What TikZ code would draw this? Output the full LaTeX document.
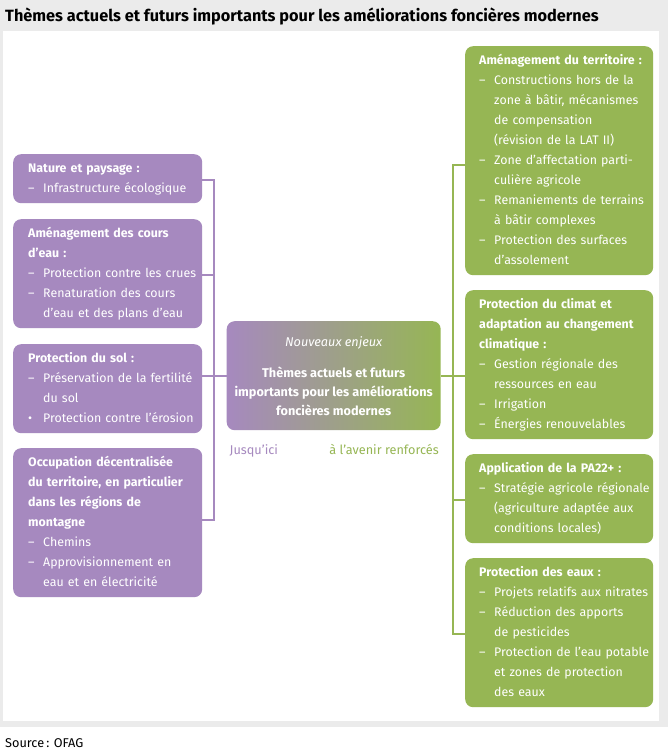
\documentclass[tikz,border=0pt]{standalone}
\usepackage{fontspec}
\setmainfont{Fira Sans}
\definecolor{purp}{HTML}{A689BF}
\definecolor{grn}{HTML}{96B654}
\definecolor{bgg}{HTML}{EBEBEB}
\newcommand\hdl[1]{\mbox{\bfseries\strut #1}}
\newcommand\dsh[1]{\mbox{\strut\makebox[15pt][l]{–}#1}}
\newcommand\blt[1]{\mbox{\strut\makebox[15pt][l]{•}#1}}
\newcommand\hind[1]{\mbox{\strut\hspace*{15pt}#1}}
\begin{document}
\begin{tikzpicture}[x=1pt,y=-1pt,
  box/.style={rounded corners=8pt, text=white, align=left, anchor=north west,
    inner xsep=15pt, inner ysep=4.5pt, font=\fontsize{12.4}{20}\selectfont},
  lbox/.style={box, fill=purp, text width=159pt},
  rbox/.style={box, fill=grn, text width=160pt, inner xsep=14pt},
  lline/.style={draw=purp, line width=1.3pt},
  rline/.style={draw=grn, line width=1.3pt}]
\useasboundingbox (0,0) rectangle (668,755);
\fill[bgg] (0,0) rectangle (668,727);
\fill[white] (3,31) rectangle (659,721);
\node[anchor=base west, inner sep=0pt, font=\fontsize{16.3}{18}\selectfont\bfseries] (title) at (5,21)
  {Thèmes actuels et futurs importants pour les améliorations foncières modernes};
\node[anchor=base west, inner sep=0pt, font=\fontsize{12.7}{14}\selectfont] (src) at (5,747) {Source\,: OFAG};

% left boxes
\node[lbox] (L1) at (13,154) {\hdl{Nature et paysage :}\\ \dsh{Infrastructure écologique}};
\node[lbox] (L2) at (13,219) {\hdl{Aménagement des cours}\\ \hdl{d’eau :}\\ \dsh{Protection contre les crues}\\ \dsh{Renaturation des cours}\\ \hind{d’eau et des plans d’eau}};
\node[lbox] (L3) at (13,344) {\hdl{Protection du sol :}\\ \dsh{Préservation de la fertilité}\\ \hind{du sol}\\ \blt{Protection contre l’érosion}};
\node[lbox] (L4) at (13,448) {\hdl{Occupation décentralisée}\\ \hdl{du territoire, en particulier}\\ \hdl{dans les régions de}\\ \hdl{montagne}\\ \dsh{Chemins}\\ \dsh{Approvisionnement en}\\ \hind{eau et en électricité}};

% right boxes
\node[rbox] (R1) at (465,46) {\hdl{Aménagement du territoire :}\\ \dsh{Constructions hors de la}\\ \hind{zone à bâtir, mécanismes}\\ \hind{de compensation}\\ \hind{(révision de la LAT II)}\\ \dsh{Zone d’affectation parti-}\\ \hind{culière agricole}\\ \dsh{Remaniements de terrains}\\ \hind{à bâtir complexes}\\ \dsh{Protection des surfaces}\\ \hind{d’assolement}};
\node[rbox] (R2) at (465,290) {\hdl{Protection du climat et}\\ \hdl{adaptation au changement}\\ \hdl{climatique :}\\ \dsh{Gestion régionale des}\\ \hind{ressources en eau}\\ \dsh{Irrigation}\\ \dsh{Énergies renouvelables}};
\node[rbox] (R3) at (465,454) {\hdl{Application de la PA22+ :}\\ \dsh{Stratégie agricole régionale}\\ \hind{(agriculture adaptée aux}\\ \hind{conditions locales)}};
\node[rbox] (R4) at (465,558) {\hdl{Protection des eaux :}\\ \dsh{Projets relatifs aux nitrates}\\ \dsh{Réduction des apports}\\ \hind{de pesticides}\\ \dsh{Protection de l’eau potable}\\ \hind{et zones de protection}\\ \hind{des eaux}};

% center
\node[rounded corners=8pt, left color=purp, right color=grn, draw=none, text=white,
  minimum width=214pt, minimum height=109pt, align=center, anchor=north west, inner sep=0pt,
  font=\fontsize{12.7}{19}\selectfont] (C) at (226.5,321)
  {{\itshape Nouveaux enjeux}\\[12pt]
   {\bfseries Thèmes actuels et futurs}\\ {\bfseries importants pour les améliorations}\\ {\bfseries foncières modernes}};
\node[anchor=base west, inner sep=0pt, text=purp, font=\fontsize{12.7}{14}\selectfont] (jus) at ([xshift=3pt]C.south west |- 0,454) {Jusqu’ici};
\node[anchor=base east, inner sep=0pt, text=grn, font=\fontsize{12.7}{14}\selectfont] (ave) at ([xshift=-2pt]C.south east |- 0,454) {à l’avenir renforcés};

% left connectors
\coordinate (lt) at (214,180);
\coordinate (lb) at (214,520);
\coordinate (lm) at (214,376);
\draw[lline] (L1.east |- lt) -- (lt) -- (lb) -- (L4.east |- lb);
\draw[lline] (L2.east |- 0,275) -- (214,275);
\draw[lline] (L3.east |- lm) -- (C.west |- lm);

% right connectors
\coordinate (rt) at (453,165);
\coordinate (rb) at (453,634);
\coordinate (rm) at (453,376);
\draw[rline] (R1.west |- rt) -- (rt) -- (rb) -- (R4.west |- rb);
\draw[rline] (C.east |- rm) -- (R2.west |- rm);
\draw[rline] (rm |- 0,500) -- (R3.west |- 0,500);
\end{tikzpicture}
\end{document}
